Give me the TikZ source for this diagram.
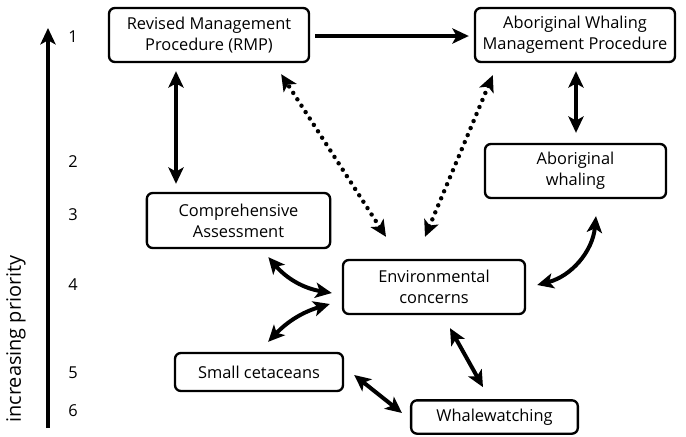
\documentclass[tikz,border=0pt]{standalone}
\usepackage{fontspec}
\setmainfont{Open Sans}
\usetikzlibrary{arrows.meta,calc}

\tikzset{
  box/.style={draw, line width=2pt, rounded corners=5pt, align=center,
    inner sep=2pt, font=\fontsize{14}{18}\selectfont},
  link/.style={line width=3.4pt, {Stealth[length=14pt,width=13pt,inset=3.5pt]}-{Stealth[length=14pt,width=13pt,inset=3.5pt]}},
  onelink/.style={line width=3.4pt, -{Stealth[length=14pt,width=13pt,inset=3.5pt]}},
  dotlink/.style={link, line width=3.8pt, line cap=round, dash pattern=on 0pt off 6.5pt},
  rank/.style={font=\fontsize{14}{16}\selectfont}
}

\begin{document}
\begin{tikzpicture}[x=0.03cm, y=-0.03cm]
        \useasboundingbox (0,0) rectangle (686,436);

        % Draw priority axis
        \coordinate (axisbot) at (48,428);
        \coordinate (axistop) at (48,28);
        \draw[onelink] (axisbot) -- (axistop);
        \node[rotate=90, font=\fontsize{17}{19}\selectfont] (prio) at (16,339) {increasing priority};

        % Mark priority levels
        \node[rank] (r1) at (73,37) {1};
        \node[rank] (r2) at (73,162) {2};
        \node[rank] (r3) at (73,215) {3};
        \node[rank] (r4) at (73,285) {4};
        \node[rank] (r5) at (73,373) {5};
        \node[rank] (r6) at (73,411) {6};

        % Draw boxes
        \node[box, minimum width=6cm, minimum height=1.62cm] (rmp) at (209,35) {Revised Management\\Procedure (RMP)};
        \node[box, minimum width=6cm, minimum height=1.62cm] (awmp) at (575,35) {Aboriginal Whaling\\Management Procedure};
        \node[box, minimum width=5.43cm, minimum height=1.62cm] (aw) at (575.5,171) {Aboriginal\\whaling};
        \node[box, minimum width=5.5cm, minimum height=1.65cm] (ca) at (238.5,220.5) {Comprehensive\\Assessment};
        \node[box, minimum width=5.46cm, minimum height=1.62cm] (ec) at (434,287) {Environmental\\concerns};
        \node[box, minimum width=5.04cm, minimum height=1.14cm] (sc) at (259,372) {Small cetaceans};
        \node[box, minimum width=5.0cm, minimum height=1.0cm] (ww) at (494.5,417) {Whalewatching};

        % Draw straight links
        \draw[onelink] ($(rmp.east)+(5,1)$) -- ($(awmp.west)+(-5,1)$);
        \draw[link] ($(rmp.south)+(-33,8)$) -- ($(ca.north)+(-62.5,-8)$);
        \draw[link] ($(awmp.south)+(1,8)$) -- ($(aw.north)+(0.5,-10)$);
        \draw[link] ($(ec.south)+(16,13)$) -- ($(ww.north)+(-11.5,-12)$);
        \draw[link] ($(sc.east)+(10,3)$) -- ($(ww.west)+(-8,-4)$);

        % Draw dotted links
        \draw[dotlink] ($(ec.north)+(-48,-22)$) -- ($(rmp.south east)+(-29,11)$);
        \draw[dotlink] ($(ec.north)+(-9,-22)$) -- ($(awmp.south west)+(19,12)$);

        % Draw curved links
        \draw[link] ($(ca.south east)+(-63,8)$) to[bend right=20] ($(ec.west)+(-10,6)$);
        \draw[link] ($(ec.west)+(-12,17)$) to[bend right=15] ($(sc.north east)+(-76,-10)$);
        \draw[link] ($(ec.east)+(11,-2)$) to[bend right=35] ($(aw.south)+(20.5,17)$);
    \end{tikzpicture}
\end{document}
